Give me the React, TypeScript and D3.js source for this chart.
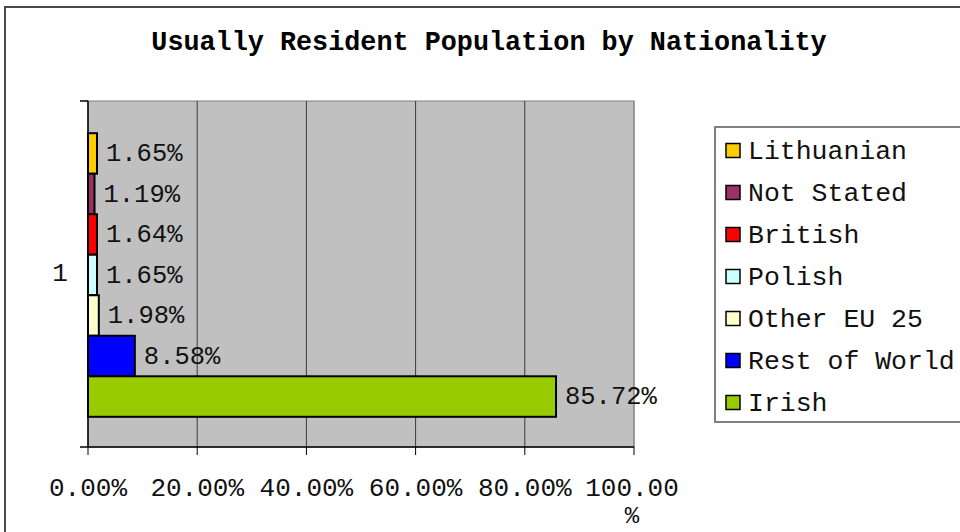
import * as d3 from "d3";

const seriesNames = ["Lithuanian", "Not Stated", "British", "Polish", "Other EU 25", "Rest of World", "Irish"];
const seriesValues = [1.65, 1.19, 1.64, 1.65, 1.98, 8.58, 85.72];
const seriesColors = ["#FFCC00", "#993366", "#FF0000", "#CCFFFF", "#FFFFCC", "#0000FF", "#99CC00"];
const xTicks = [0, 20, 40, 60, 80, 100];
const categoryLabel = "1";
const title = "Usually Resident Population by Nationality";

const width = 960;
const height = 532;
const plotLeft = 88;
const plotRight = 634;
const plotTop = 101;
const plotBottom = 447;
const font = "'Liberation Mono', 'DejaVu Sans Mono', monospace";

export default function App() {
  const x = d3.scaleLinear([0, 100], [plotLeft, plotRight]);
  const y = d3.scaleBand(seriesNames, [plotTop, plotBottom]).paddingInner(0).paddingOuter(0.77);
  const fmt = (v: number) => v.toFixed(2) + "%";

  return (
    <svg
      width={width}
      height={height}
      style={{ position: "absolute", left: 0, top: 0, background: "#fff" }}
      fontFamily={font}
    >
      {/* chart border, clipped at right and bottom */}
      <rect x={5} y={7} width={1000} height={600} fill="#fff" stroke="#4a4a4a" strokeWidth={2} />

      <text x={489} y={50} textAnchor="middle" fontWeight="bold" fontSize={26.8} fill="#000">
        {title}
      </text>

      {/* plot area */}
      <rect x={plotLeft} y={plotTop} width={plotRight - plotLeft} height={plotBottom - plotTop} fill="#C0C0C0" stroke="#808080" strokeWidth={1} />
      {xTicks.slice(1).map((t) => (
        <line key={t} x1={x(t)} x2={x(t)} y1={plotTop} y2={plotBottom} stroke={t === 100 ? "#808080" : "#3a3a3a"} strokeWidth={1} />
      ))}

      {/* bars */}
      {seriesNames.map((s, i) => (
        <g key={s}>
          <rect
            x={x(0)}
            y={(y(s) as number) + 1}
            width={x(seriesValues[i]) - x(0)}
            height={y.bandwidth()}
            fill={seriesColors[i]}
            stroke="#000"
            strokeWidth={2}
          />
          <text
            x={x(seriesValues[i]) + 9}
            y={(y(s) as number) + y.bandwidth() / 2}
            dy="0.35em"
            fontSize={25.5}
            fill="#111"
          >
            {fmt(seriesValues[i])}
          </text>
        </g>
      ))}

      {/* axes */}
      <line x1={plotLeft} x2={plotLeft} y1={plotTop} y2={plotBottom} stroke="#000" strokeWidth={1.5} />
      <line x1={80} x2={plotLeft} y1={plotTop} y2={plotTop} stroke="#000" strokeWidth={1.5} />
      <line x1={80} x2={plotRight} y1={plotBottom} y2={plotBottom} stroke="#000" strokeWidth={1.5} />
      {xTicks.map((t) => (
        <line key={t} x1={x(t)} x2={x(t)} y1={plotBottom} y2={plotBottom + 8} stroke="#000" strokeWidth={1} />
      ))}
      {xTicks.map((t) =>
        t === 100 ? (
          <g key={t}>
            <text x={x(t) - 2} y={496} textAnchor="middle" fontSize={26} fill="#111">
              {t.toFixed(2)}
            </text>
            <text x={x(t) - 2} y={523} textAnchor="middle" fontSize={24} fill="#111">
              %
            </text>
          </g>
        ) : (
          <text key={t} x={x(t)} y={496} textAnchor="middle" fontSize={26} fill="#111">
            {fmt(t)}
          </text>
        )
      )}
      <text x={60} y={272} dy="0.35em" textAnchor="middle" fontSize={26} fill="#111">
        {categoryLabel}
      </text>

      {/* legend */}
      <rect x={715} y={127} width={300} height={295} fill="#fff" stroke="#808080" strokeWidth={2} />
      {seriesNames.map((s, i) => (
        <g key={s} transform={`translate(0,${150.5 + i * 42})`}>
          <rect x={726} y={-7} width={14} height={14} fill={seriesColors[i]} stroke="#000" strokeWidth={1.5} />
          <text x={748} y={-1} dy="0.35em" fontSize={26.5} fill="#111">
            {s}
          </text>
        </g>
      ))}
    </svg>
  );
}
